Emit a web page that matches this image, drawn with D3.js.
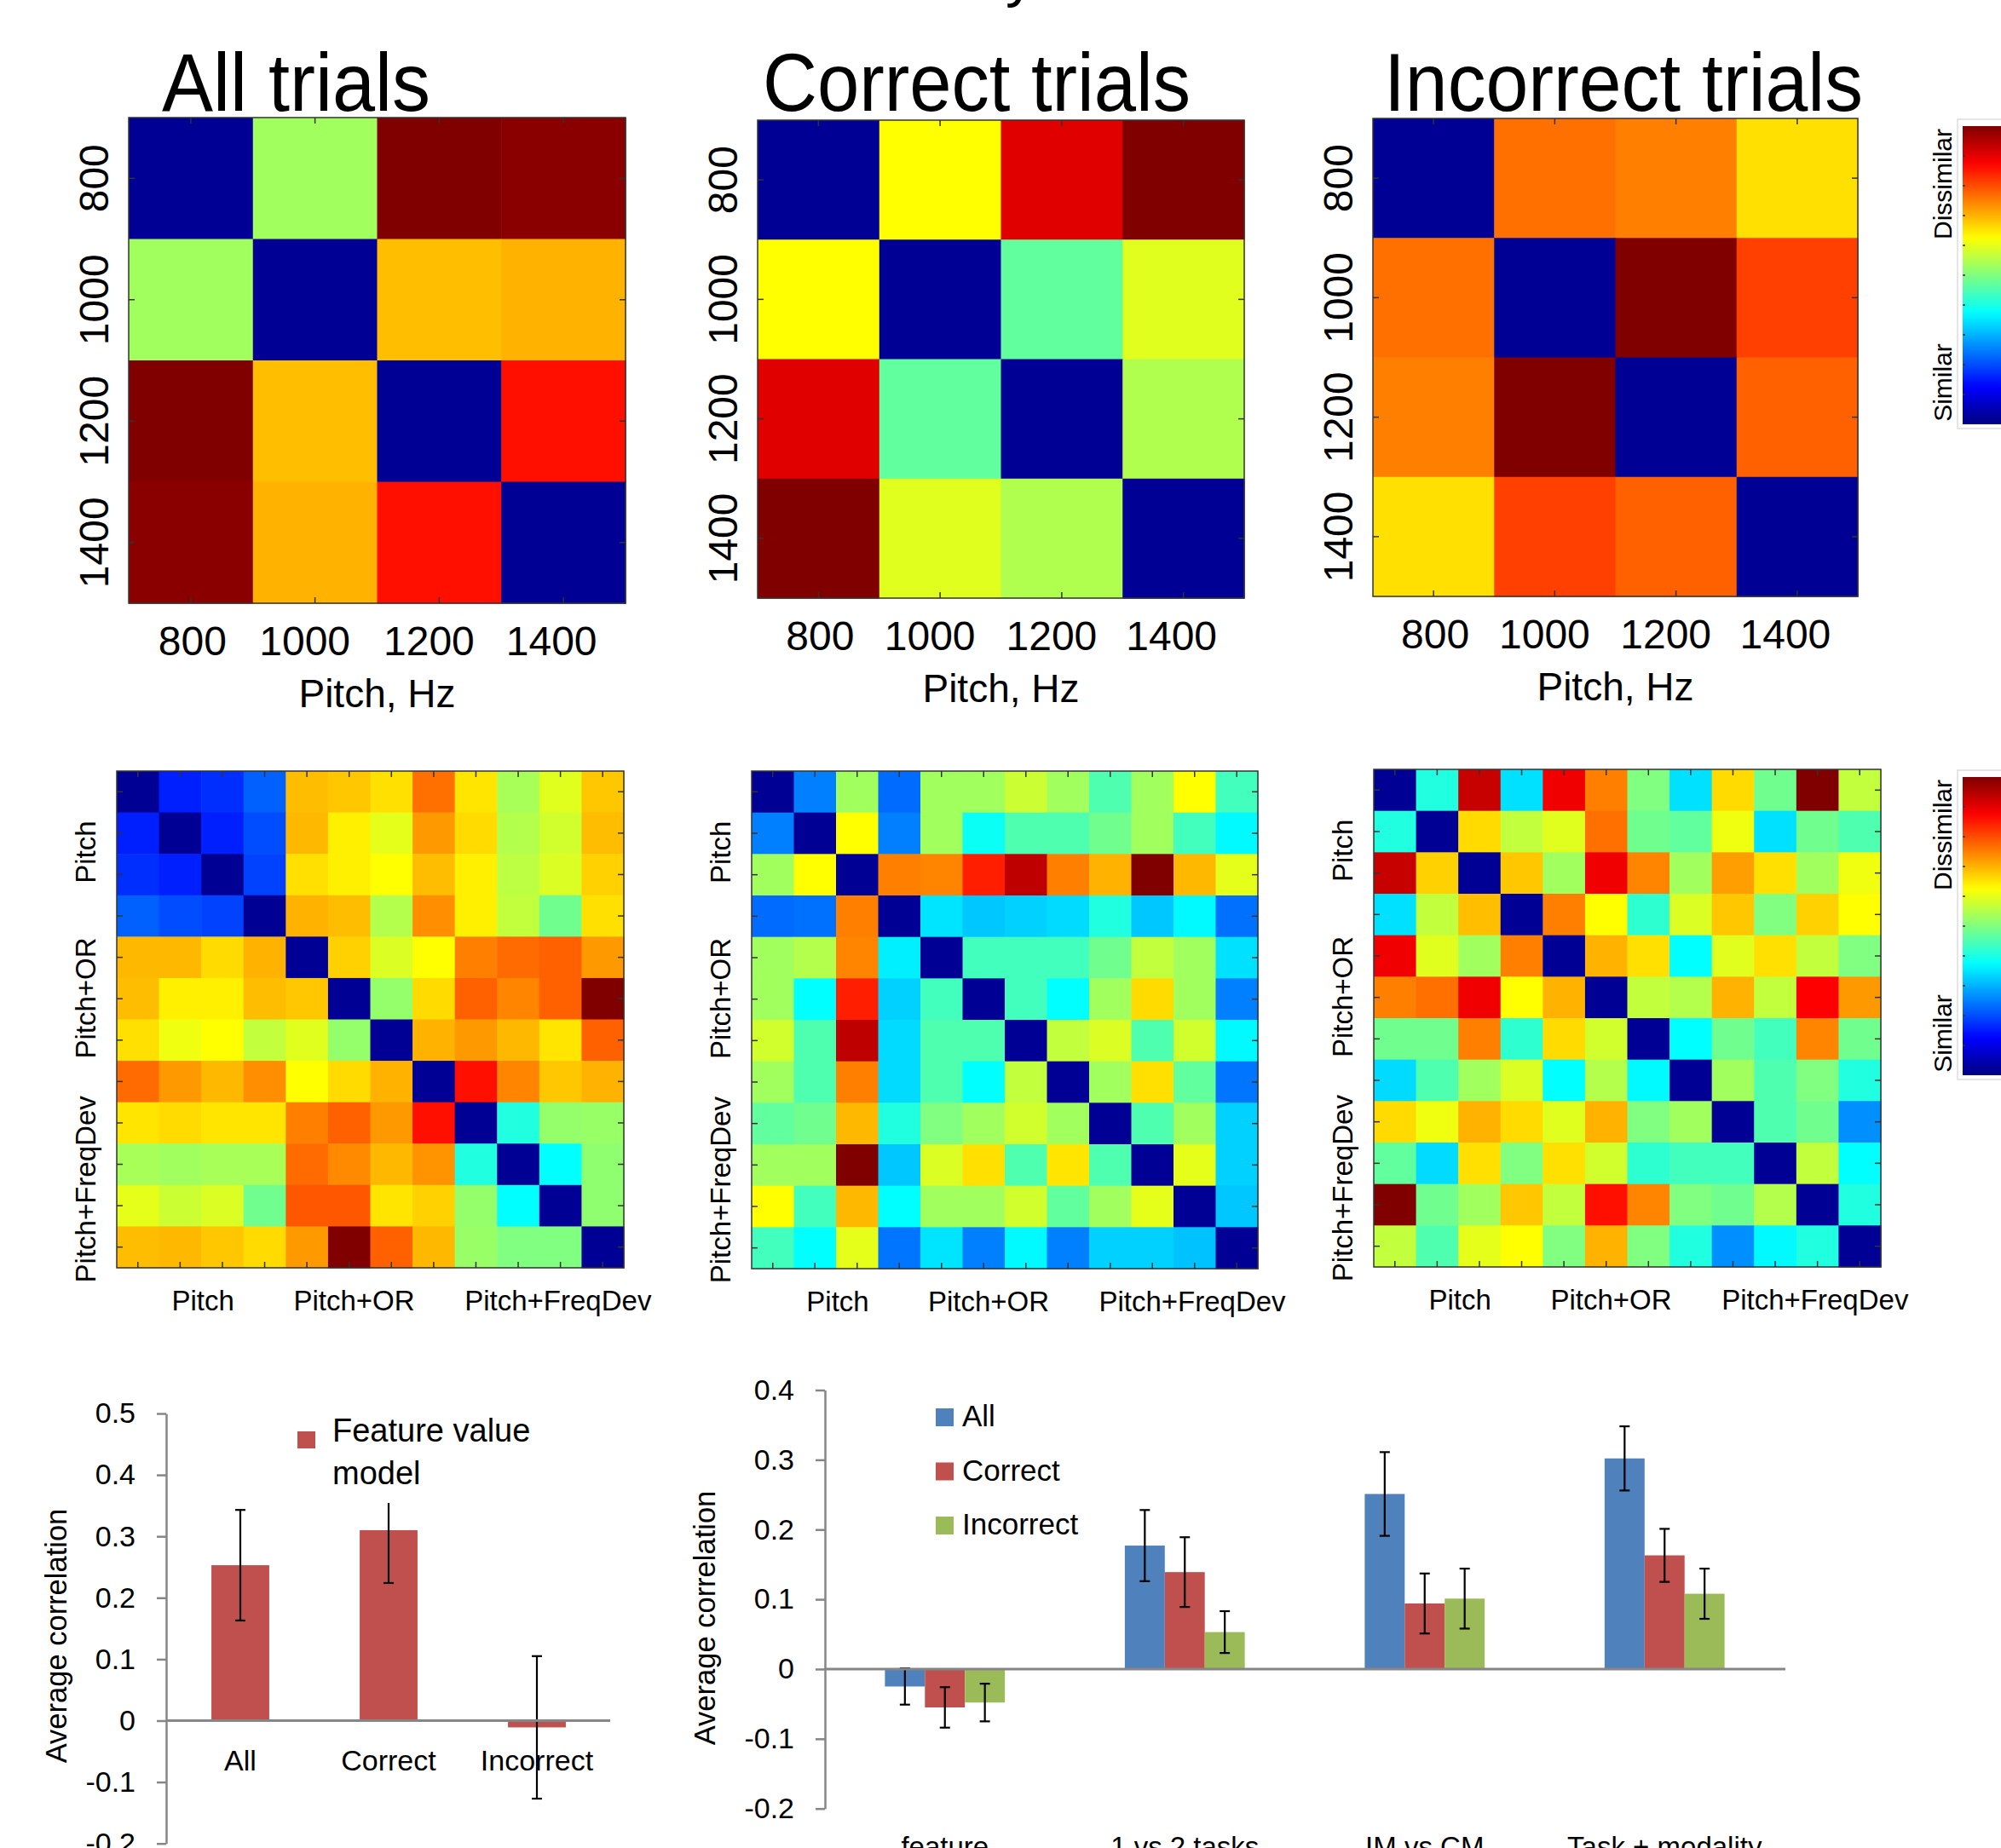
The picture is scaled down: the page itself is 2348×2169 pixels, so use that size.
<!DOCTYPE html>
<html>
<head>
<meta charset="utf-8">
<script src="https://cdn.jsdelivr.net/npm/d3@7"></script>
<style>
  html, body { margin: 0; padding: 0; background: #fff; }
  svg { display: block; font-family: "Liberation Sans", Arial, sans-serif; }
</style>
</head>
<body>
<div id="frame"></div>
<script>
'use strict'
var app = app || {}

// ---- data: pitch RDMs (4x4), values on a 0..1 dissimilarity scale ----
var pitchTicks = ["800", "1000", "1200", "1400"]
var topTitles = ["All trials", "Correct trials", "Incorrect trials"]

var rdm4All = [
  [0.02, 0.533, 1.0, 0.99],
  [0.533, 0.02, 0.6875, 0.70],
  [1.0, 0.6875, 0.02, 0.86],
  [0.99, 0.70, 0.86, 0.02]
]
var rdm4Correct = [
  [0.02, 0.625, 0.905, 1.0],
  [0.625, 0.02, 0.47, 0.595],
  [0.905, 0.47, 0.02, 0.5475],
  [1.0, 0.595, 0.5475, 0.02]
]
var rdm4Incorrect = [
  [0.02, 0.765, 0.75, 0.655],
  [0.765, 0.02, 1.0, 0.8125],
  [0.75, 1.0, 0.02, 0.78],
  [0.655, 0.8125, 0.78, 0.02]
]

// ---- data: condition RDMs (12x12) ----
var groupLabels = ["Pitch", "Pitch+OR", "Pitch+FreqDev"]

var rdm12All = [
  [0.02, 0.155, 0.17, 0.22, 0.69, 0.68, 0.655, 0.765, 0.65, 0.54, 0.595, 0.68],
  [0.155, 0.02, 0.155, 0.20, 0.695, 0.64, 0.60, 0.725, 0.66, 0.55, 0.58, 0.69],
  [0.17, 0.155, 0.02, 0.19, 0.655, 0.64, 0.625, 0.69, 0.64, 0.56, 0.59, 0.67],
  [0.22, 0.20, 0.19, 0.02, 0.70, 0.69, 0.55, 0.735, 0.64, 0.565, 0.485, 0.655],
  [0.695, 0.695, 0.66, 0.70, 0.02, 0.67, 0.59, 0.625, 0.75, 0.77, 0.78, 0.725],
  [0.69, 0.64, 0.64, 0.69, 0.68, 0.02, 0.52, 0.66, 0.78, 0.745, 0.78, 1.0],
  [0.655, 0.61, 0.625, 0.565, 0.595, 0.52, 0.02, 0.70, 0.725, 0.695, 0.65, 0.78],
  [0.77, 0.725, 0.695, 0.735, 0.625, 0.66, 0.70, 0.02, 0.86, 0.745, 0.68, 0.70],
  [0.65, 0.66, 0.65, 0.65, 0.75, 0.78, 0.725, 0.86, 0.02, 0.406, 0.52, 0.525],
  [0.54, 0.533, 0.54, 0.54, 0.77, 0.74, 0.695, 0.73, 0.406, 0.02, 0.375, 0.515],
  [0.60, 0.575, 0.59, 0.485, 0.79, 0.79, 0.65, 0.67, 0.52, 0.375, 0.02, 0.515],
  [0.69, 0.695, 0.68, 0.66, 0.725, 1.0, 0.78, 0.695, 0.525, 0.50, 0.50, 0.02]
]
var rdm12Correct = [
  [0.02, 0.25, 0.533, 0.23, 0.533, 0.533, 0.575, 0.533, 0.4525, 0.533, 0.625, 0.44],
  [0.25, 0.02, 0.625, 0.25, 0.533, 0.385, 0.4525, 0.4525, 0.485, 0.533, 0.44, 0.37],
  [0.533, 0.625, 0.02, 0.75, 0.745, 0.845, 0.9375, 0.75, 0.70, 1.0, 0.695, 0.60],
  [0.23, 0.235, 0.75, 0.02, 0.35, 0.32, 0.33, 0.34, 0.406, 0.32, 0.37, 0.235],
  [0.533, 0.55, 0.745, 0.36, 0.02, 0.44, 0.44, 0.44, 0.485, 0.565, 0.533, 0.345],
  [0.533, 0.375, 0.845, 0.33, 0.44, 0.02, 0.44, 0.375, 0.533, 0.66, 0.533, 0.25],
  [0.58, 0.4525, 0.9375, 0.34, 0.4525, 0.4525, 0.02, 0.565, 0.59, 0.4525, 0.58, 0.37],
  [0.533, 0.4525, 0.75, 0.34, 0.4525, 0.375, 0.565, 0.02, 0.533, 0.655, 0.47, 0.24],
  [0.47, 0.485, 0.695, 0.406, 0.50, 0.533, 0.58, 0.533, 0.02, 0.4525, 0.533, 0.33],
  [0.533, 0.533, 1.0, 0.32, 0.59, 0.655, 0.4525, 0.65, 0.4525, 0.02, 0.60, 0.33],
  [0.625, 0.44, 0.695, 0.375, 0.533, 0.533, 0.58, 0.47, 0.533, 0.60, 0.02, 0.32],
  [0.44, 0.375, 0.60, 0.24, 0.35, 0.25, 0.37, 0.25, 0.33, 0.33, 0.315, 0.02]
]
var rdm12Incorrect = [
  [0.02, 0.406, 0.93, 0.345, 0.89, 0.75, 0.50, 0.345, 0.66, 0.485, 1.0, 0.565],
  [0.406, 0.02, 0.66, 0.565, 0.595, 0.765, 0.485, 0.47, 0.61, 0.345, 0.485, 0.4525],
  [0.93, 0.67, 0.02, 0.68, 0.533, 0.89, 0.745, 0.533, 0.72, 0.655, 0.533, 0.61],
  [0.345, 0.565, 0.6875, 0.02, 0.75, 0.625, 0.42, 0.59, 0.68, 0.50, 0.67, 0.625],
  [0.89, 0.595, 0.533, 0.75, 0.02, 0.70, 0.655, 0.375, 0.595, 0.655, 0.565, 0.50],
  [0.75, 0.765, 0.89, 0.625, 0.70, 0.02, 0.565, 0.55, 0.70, 0.565, 0.875, 0.725],
  [0.485, 0.485, 0.75, 0.42, 0.66, 0.58, 0.02, 0.375, 0.485, 0.44, 0.745, 0.485],
  [0.34, 0.4525, 0.533, 0.59, 0.375, 0.55, 0.37, 0.02, 0.533, 0.4525, 0.50, 0.406],
  [0.66, 0.61, 0.70, 0.66, 0.595, 0.70, 0.50, 0.533, 0.02, 0.4525, 0.485, 0.265],
  [0.47, 0.34, 0.655, 0.50, 0.655, 0.58, 0.42, 0.44, 0.44, 0.02, 0.565, 0.375],
  [1.0, 0.485, 0.533, 0.68, 0.565, 0.86, 0.745, 0.50, 0.485, 0.55, 0.02, 0.406],
  [0.565, 0.4525, 0.60, 0.625, 0.50, 0.70, 0.50, 0.406, 0.265, 0.37, 0.406, 0.02]
]

// ---- data: feature value model bars ----
var fvCategories = ["All", "Correct", "Incorrect"]
var fvValues = [0.253, 0.310, -0.011]
var fvErrors = [0.090, 0.086, 0.116]
var fvTicks = [0.5, 0.4, 0.3, 0.2, 0.1, 0, -0.1, -0.2]

// ---- data: model comparison bars ----
var modelCategories = ["feature", "1 vs 2 tasks", "IM vs CM", "Task + modality"]
var modelSeries = ["All", "Correct", "Incorrect"]
var modelAll = [-0.025, 0.177, 0.251, 0.302]
var modelCorrect = [-0.055, 0.139, 0.094, 0.163]
var modelIncorrect = [-0.048, 0.053, 0.101, 0.108]
var errAll = [0.026, 0.051, 0.060, 0.046]
var errCorrect = [0.029, 0.050, 0.043, 0.038]
var errIncorrect = [0.027, 0.030, 0.043, 0.036]
var modelTicks = [0.4, 0.3, 0.2, 0.1, 0, -0.1, -0.2]

// ---- setup ----
app.W = 2348
app.H = 2169
app.seriesColors = ["#4F81BD", "#C0504D", "#9BBB59"]
app.axisGray = "#868686"

// MATLAB-like jet colormap
app.jet = function(v) {
  var c = k => Math.max(0, Math.min(1, 1.5 - Math.abs(4 * v - k))) * 255
  return d3.rgb(c(3), c(2), c(1)).formatHex()
}
app.color = d3.scaleSequential(app.jet).domain([0, 1])
app.fmt = d => d === 0 ? "0" : d3.format(".1f")(d).replace("\u2212", "-")

app.svg = d3.select("#frame")
  .append("svg")
  .attr("width", app.W)
  .attr("height", app.H)
app.svg.append("rect")
  .attr("width", app.W)
  .attr("height", app.H)
  .attr("fill", "#fff")
app.defs = app.svg.append("defs")

// cut-off heading above the figure, only the descender shows
app.svg.append("text")
  .attr("x", 1215)
  .attr("y", -6)
  .attr("text-anchor", "end")
  .style("font-size", "70px")
  .text("similarity")

app.drawMatrix = function(box, matrix) {
  var n = matrix.length
  var g = app.svg.append("g")
  var x = d3.scaleBand().domain(d3.range(n)).range([box.x0, box.x1])
  var y = d3.scaleBand().domain(d3.range(n)).range([box.y0, box.y1])
  var cells = []
  matrix.forEach((row, i) => row.forEach((v, j) => cells.push({i: i, j: j, v: v})))

  g.selectAll("rect.cell")
    .data(cells)
    .join("rect")
    .attr("class", "cell")
    .attr("x", d => x(d.j))
    .attr("y", d => y(d.i))
    .attr("width", x.bandwidth() + 0.6)
    .attr("height", y.bandwidth() + 0.6)
    .attr("fill", d => app.color(d.v))

  // inward ticks on every side, MATLAB box style
  var sides = [
    [d3.axisTop(x), "translate(0," + box.y0 + ")"],
    [d3.axisBottom(x), "translate(0," + box.y1 + ")"],
    [d3.axisLeft(y), "translate(" + box.x0 + ",0)"],
    [d3.axisRight(y), "translate(" + box.x1 + ",0)"]
  ]
  sides.forEach(s => {
    g.append("g")
      .attr("transform", s[1])
      .call(s[0].tickSize(-7).tickFormat(""))
      .call(a => a.select(".domain").remove())
      .selectAll("line")
      .attr("stroke", "#333")
      .attr("stroke-width", 1.5)
  })

  g.append("rect")
    .attr("x", box.x0)
    .attr("y", box.y0)
    .attr("width", box.x1 - box.x0)
    .attr("height", box.y1 - box.y0)
    .attr("fill", "none")
    .attr("stroke", "#333")
    .attr("stroke-width", 1.5)

  return {g: g, x: x, y: y}
}

// ---- top row: pitch RDMs ----
app.topBoxes = [
  {x0: 151, x1: 734, y0: 138, y1: 708, title: 190, tlen: 315},
  {x0: 889, x1: 1460, y0: 141, y1: 702, title: 895, tlen: 502},
  {x0: 1611, x1: 2180, y0: 139, y1: 700, title: 1624, tlen: 562}
]
// the original tick text sits a little left of the cell centres
app.tickShift = [2, -12, -12, -14]
;[rdm4All, rdm4Correct, rdm4Incorrect].forEach((m, k) => {
  var box = app.topBoxes[k]
  var mx = app.drawMatrix(box, m)
  var bw = mx.x.bandwidth()

  mx.g.append("text")
    .attr("x", box.title)
    .attr("y", 130)
    .attr("textLength", box.tlen)
    .attr("lengthAdjust", "spacingAndGlyphs")
    .style("font-size", "96px")
    .text(topTitles[k])

  mx.g.selectAll("text.xt")
    .data(pitchTicks)
    .join("text")
    .attr("class", "xt")
    .attr("x", (d, i) => mx.x(i) + bw / 2 + app.tickShift[i])
    .attr("y", box.y1 + 61)
    .attr("text-anchor", "middle")
    .style("font-size", "48px")
    .text(d => d)

  mx.g.selectAll("text.yt")
    .data(pitchTicks)
    .join("text")
    .attr("class", "yt")
    .attr("transform", (d, i) => "translate(" + (box.x0 - 24) + "," + (mx.y(i) + mx.y.bandwidth() / 2) + ") rotate(-90)")
    .attr("text-anchor", "middle")
    .style("font-size", "48px")
    .text(d => d)

  mx.g.append("text")
    .attr("x", (box.x0 + box.x1) / 2)
    .attr("y", box.y1 + 122)
    .attr("text-anchor", "middle")
    .style("font-size", "46px")
    .text("Pitch, Hz")
})

// ---- middle row: condition RDMs ----
app.midBoxes = [
  {x0: 137, x1: 732, y0: 905, y1: 1488},
  {x0: 882, x1: 1476, y0: 905, y1: 1489},
  {x0: 1612, x1: 2207, y0: 903, y1: 1487}
]
app.labShiftX = [2, -19, 22]
app.labShiftY = [-2, -25, 5]
;[rdm12All, rdm12Correct, rdm12Incorrect].forEach((m, k) => {
  var box = app.midBoxes[k]
  var mx = app.drawMatrix(box, m)
  var gx = d3.scaleBand().domain(groupLabels).range([box.x0, box.x1])
  var gy = d3.scaleBand().domain(groupLabels).range([box.y0, box.y1])

  mx.g.selectAll("text.gx")
    .data(groupLabels)
    .join("text")
    .attr("class", "gx")
    .attr("x", (d, i) => gx(d) + gx.bandwidth() / 2 + app.labShiftX[i])
    .attr("y", box.y1 + 50)
    .attr("text-anchor", "middle")
    .style("font-size", "33px")
    .text(d => d)

  mx.g.selectAll("text.gy")
    .data(groupLabels)
    .join("text")
    .attr("class", "gy")
    .attr("transform", (d, i) => "translate(" + (box.x0 - 25) + "," + (gy(d) + gy.bandwidth() / 2 + app.labShiftY[i]) + ") rotate(-90)")
    .attr("text-anchor", "middle")
    .style("font-size", "33px")
    .text(d => d)
})

// ---- colour bars ----
var grad = app.defs.append("linearGradient")
  .attr("id", "jetgrad")
  .attr("x1", 0).attr("y1", 1)
  .attr("x2", 0).attr("y2", 0)
grad.selectAll("stop")
  .data(d3.range(0, 1.0001, 0.02))
  .join("stop")
  .attr("offset", d => d)
  .attr("stop-color", d => app.color(d))

;[148, 912].forEach(top => {
  var g = app.svg.append("g")
  var h = 350
  g.append("rect")
    .attr("x", 2297)
    .attr("y", top - 8)
    .attr("width", 60)
    .attr("height", h + 13)
    .attr("fill", "#fff")
    .attr("stroke", "#ddd")
    .attr("stroke-width", 1.5)
  g.append("rect")
    .attr("x", 2303)
    .attr("y", top)
    .attr("width", 60)
    .attr("height", h)
    .attr("fill", "url(#jetgrad)")
  var cy = d3.scaleLinear().domain([0, 1]).range([top + h, top])
  g.selectAll("line")
    .data(d3.range(0.1, 0.95, 0.1))
    .join("line")
    .attr("x1", 2303)
    .attr("x2", 2306)
    .attr("y1", d => cy(d))
    .attr("y2", d => cy(d))
    .attr("stroke", "#333")
    .attr("stroke-width", 1.5)
  g.append("text")
    .attr("transform", "translate(2290," + (top + 68) + ") rotate(-90)")
    .attr("text-anchor", "middle")
    .style("font-size", "30px")
    .text("Dissimilar")
  g.append("text")
    .attr("transform", "translate(2290," + (top + 301) + ") rotate(-90)")
    .attr("text-anchor", "middle")
    .style("font-size", "30px")
    .text("Similar")
})

// ---- shared helpers for bar charts ----
app.yAxis = function(g, y, ticks, x0) {
  g.append("g")
    .attr("transform", "translate(" + x0 + ",0)")
    .call(d3.axisLeft(y).tickValues(ticks).tickFormat(app.fmt).tickSize(11).tickSizeOuter(0).tickPadding(25))
    .call(a => a.select(".domain").attr("stroke", app.axisGray).attr("stroke-width", 2.5))
    .call(a => a.selectAll(".tick line").attr("stroke", app.axisGray).attr("stroke-width", 2.5))
    .call(a => a.selectAll("text")
      .attr("fill", "#000")
      .style("font-size", "34px")
      .style("font-family", "'Liberation Sans', Arial, sans-serif"))
}

app.errBar = function(g, cx, y, v, e) {
  var eb = g.append("g").attr("stroke", "#000").attr("stroke-width", 2.2)
  eb.append("line").attr("x1", cx).attr("x2", cx).attr("y1", y(v + e)).attr("y2", y(v - e))
  eb.append("line").attr("x1", cx - 6).attr("x2", cx + 6).attr("y1", y(v + e)).attr("y2", y(v + e))
  eb.append("line").attr("x1", cx - 6).attr("x2", cx + 6).attr("y1", y(v - e)).attr("y2", y(v - e))
}

// ---- bottom left: feature value model ----
;(function() {
  var g = app.svg.append("g")
  var x = d3.scaleBand().domain(fvCategories).range([195, 717])
  var y = d3.scaleLinear().domain([-0.2, 0.5]).range([2163.7, 1659])
  var bw = x.bandwidth() * 0.39

  g.selectAll("rect.bar")
    .data(fvValues)
    .join("rect")
    .attr("class", "bar")
    .attr("x", (d, i) => x(fvCategories[i]) + (x.bandwidth() - bw) / 2)
    .attr("y", d => y(Math.max(0, d)))
    .attr("width", bw)
    .attr("height", d => Math.abs(y(d) - y(0)))
    .attr("fill", app.seriesColors[1])

  fvValues.forEach((v, i) => app.errBar(g, x(fvCategories[i]) + x.bandwidth() / 2, y, v, fvErrors[i]))

  app.yAxis(g, y, fvTicks, 195)
  g.append("line")
    .attr("x1", 195).attr("x2", 716)
    .attr("y1", y(0)).attr("y2", y(0))
    .attr("stroke", app.axisGray)
    .attr("stroke-width", 3)

  g.selectAll("text.cat")
    .data(fvCategories)
    .join("text")
    .attr("class", "cat")
    .attr("x", d => x(d) + x.bandwidth() / 2)
    .attr("y", 2078)
    .attr("text-anchor", "middle")
    .style("font-size", "34px")
    .text(d => d)

  g.append("text")
    .attr("transform", "translate(78,1920) rotate(-90)")
    .attr("text-anchor", "middle")
    .style("font-size", "34.5px")
    .text("Average correlation")

  // legend box (white, sits over the top of the error bar)
  var lg = g.append("g")
  lg.append("rect").attr("x", 338).attr("y", 1645).attr("width", 300).attr("height", 119).attr("fill", "#fff")
  lg.append("rect").attr("x", 349).attr("y", 1680).attr("width", 21).attr("height", 20).attr("fill", app.seriesColors[1])
  lg.append("text").attr("x", 390).attr("y", 1692).style("font-size", "38px").text("Feature value")
  lg.append("text").attr("x", 390).attr("y", 1742).style("font-size", "38px").text("model")
})()

// ---- bottom right: model comparison ----
;(function() {
  var g = app.svg.append("g")
  var x0 = d3.scaleBand().domain(modelCategories).range([968, 2094])
  var x1 = d3.scaleBand().domain(modelSeries).range([0, x0.bandwidth() * 0.5])
  var y = d3.scaleLinear().domain([-0.2, 0.4]).range([2122.7, 1631.5])
  var vals = [modelAll, modelCorrect, modelIncorrect]
  var errs = [errAll, errCorrect, errIncorrect]

  var rows = []
  modelSeries.forEach((s, si) => modelCategories.forEach((c, ci) => {
    rows.push({s: s, si: si, c: c, v: vals[si][ci], e: errs[si][ci]})
  }))
  var bx = d => x0(d.c) + x0.bandwidth() * 0.25 + x1(d.s)

  g.selectAll("rect.bar")
    .data(rows)
    .join("rect")
    .attr("class", "bar")
    .attr("x", d => bx(d))
    .attr("y", d => y(Math.max(0, d.v)))
    .attr("width", x1.bandwidth())
    .attr("height", d => Math.abs(y(d.v) - y(0)))
    .attr("fill", d => app.seriesColors[d.si])

  rows.forEach(d => app.errBar(g, bx(d) + x1.bandwidth() / 2, y, d.v, d.e))

  app.yAxis(g, y, modelTicks, 968)
  g.append("line")
    .attr("x1", 968).attr("x2", 2095)
    .attr("y1", y(0)).attr("y2", y(0))
    .attr("stroke", app.axisGray)
    .attr("stroke-width", 3)

  g.selectAll("text.cat")
    .data(modelCategories)
    .join("text")
    .attr("class", "cat")
    .attr("x", d => x0(d) + x0.bandwidth() / 2)
    .attr("y", 2179)
    .attr("text-anchor", "middle")
    .style("font-size", "33px")
    .text(d => d)

  g.append("text")
    .attr("transform", "translate(839,1899) rotate(-90)")
    .attr("text-anchor", "middle")
    .style("font-size", "34.5px")
    .text("Average correlation")

  var lg = g.append("g")
  modelSeries.forEach((s, i) => {
    lg.append("rect")
      .attr("x", 1098).attr("y", 1653 + i * 63.5)
      .attr("width", 21).attr("height", 21)
      .attr("fill", app.seriesColors[i])
    lg.append("text")
      .attr("x", 1129).attr("y", 1674 + i * 63.5)
      .style("font-size", "35px")
      .text(s)
  })
})()
</script>
</body>
</html>
